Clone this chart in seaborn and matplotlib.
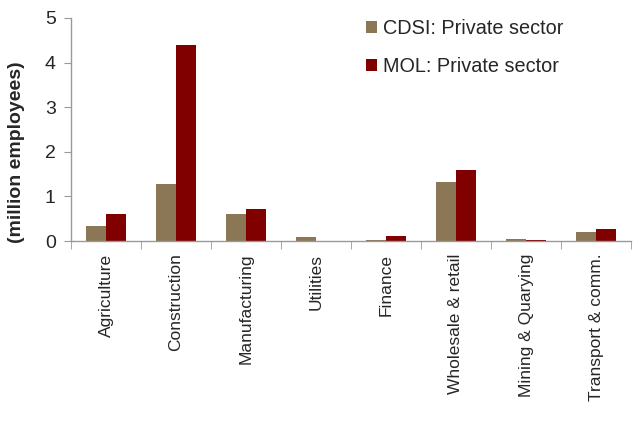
import numpy as np
import pandas as pd
import seaborn as sns
import matplotlib.pyplot as plt
from matplotlib.ticker import FixedLocator

categories = ['Agriculture', 'Construction', 'Manufacturing', 'Utilities',
              'Finance', 'Wholesale & retail', 'Mining & Quarying',
              'Transport & comm.']
cdsi = [0.34, 1.28, 0.60, 0.08, 0.03, 1.32, 0.05, 0.21]
mol = [0.61, 4.39, 0.72, 0.0, 0.11, 1.60, 0.02, 0.27]
series = ['CDSI: Private sector', 'MOL: Private sector']
colors = ['#8B7755', '#800000']

df = pd.DataFrame({
    'sector': categories * 2,
    'value': cdsi + mol,
    'source': [series[0]] * len(categories) + [series[1]] * len(categories),
})

sns.set_style('white')
plt.rcParams['font.family'] = ['Liberation Sans', 'DejaVu Sans']

fig = plt.figure(figsize=(6.39, 4.21), dpi=100)
ax = fig.add_axes([71 / 639, 1 - 241 / 421, 560 / 639, 223 / 421])

sns.barplot(data=df, x='sector', y='value', hue='source', palette=colors,
            width=0.57, saturation=1, ax=ax, edgecolor='none')

ax.set_ylim(0, 5)
ax.set_xlim(-0.5, len(categories) - 0.5)
ax.set_yticks(range(6))
ax.tick_params(axis='y', labelsize=14, length=5, color='#999999',
               direction='out', left=True, pad=6)
ax.set_xticks(range(len(categories)))
ax.set_xticklabels(categories, rotation=90, fontsize=12.5)
ax.tick_params(axis='x', length=0, pad=9)
ax.xaxis.set_minor_locator(FixedLocator(np.arange(-0.5, len(categories), 1)))
ax.tick_params(axis='x', which='minor', length=6, color='#999999',
               direction='out', bottom=True)
ax.set_xlabel('')
ax.set_ylabel('(million employees)', fontsize=14, fontweight='bold')
ax.yaxis.set_label_coords(-0.083, 0.40)

for side in ['top', 'right']:
    ax.spines[side].set_visible(False)
for side in ['left', 'bottom']:
    ax.spines[side].set_color('#999999')
    ax.spines[side].set_linewidth(1)

ax.legend(title=None, frameon=False, loc='upper left',
          bbox_to_anchor=(0.495, 1.075), fontsize=14.3, handlelength=0.55,
          handleheight=0.55, handletextpad=0.3, labelspacing=0.95)

fig.savefig('out.png', dpi=100)
